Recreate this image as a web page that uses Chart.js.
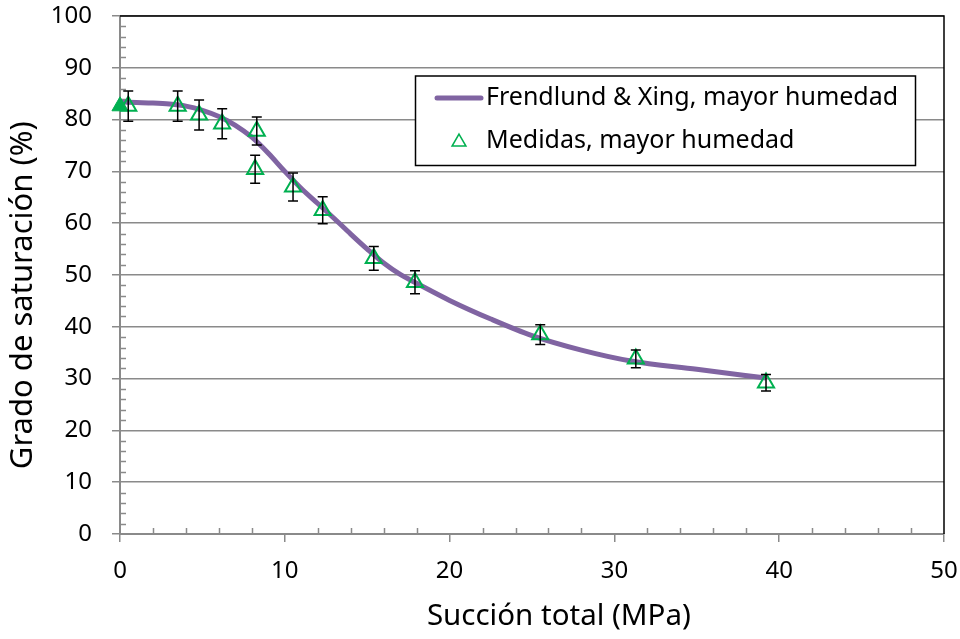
<!DOCTYPE html>
<html>
<head>
<meta charset="utf-8">
<script src="https://cdn.jsdelivr.net/npm/chart.js@4.4.1/dist/chart.umd.min.js"></script>
<style>
html, body { margin: 0; padding: 0; background: #fff; }
#caja { width: 960px; height: 639px; }
</style>
</head>
<body>
<div id="caja"><canvas id="grafico"></canvas></div>
<script>
// curva ajustada (Frendlund & Xing)
var curvaX = [0, 1, 2, 3, 4, 5, 6, 7, 8, 9, 10, 11, 12, 13, 14, 15, 16, 17, 18, 20, 22.5, 25, 28, 31, 35, 39.2];
var curvaY = [83.4, 83.3, 83.2, 83.0, 82.6, 81.8, 80.6, 78.9, 76.6, 73.5, 70.0, 66.7, 63.8, 60.9, 57.9, 55.0, 52.3, 50.1, 48.4, 45.1, 41.5, 38.3, 35.5, 33.4, 31.8, 30.1];

// medidas con barras de error
var medX = [0.5, 3.5, 4.8, 6.2, 8.3, 8.2, 10.5, 12.3, 15.4, 17.9, 25.5, 31.3, 39.2];
var medY = [82.6, 82.6, 80.9, 79.2, 77.8, 70.4, 67.0, 62.5, 53.2, 48.6, 38.5, 33.8, 29.2];
var medErr = [2.9, 2.9, 2.9, 2.9, 2.7, 2.7, 2.7, 2.6, 2.3, 2.2, 1.9, 1.7, 1.6];

// punto relleno en succion cero
var puntoX = [0];
var puntoY = [82.6];

var menoresX = [2, 4, 6, 8, 12, 14, 16, 18, 22, 24, 26, 28, 32, 34, 36, 38, 42, 44, 46, 48];
var menoresY = [2, 4, 6, 8, 12, 14, 16, 18, 22, 24, 26, 28, 32, 34, 36, 38, 42, 44, 46, 48, 52, 54, 56, 58, 62, 64, 66, 68, 72, 74, 76, 78, 82, 84, 86, 88, 92, 94, 96, 98];

var fuente = "'Noto Sans', 'Open Sans', sans-serif";
var gris = '#8a8a8a';
var morado = '#8064A2';
var verde = '#00B050';

function pares(xs, ys) {
	return xs.map(function (x, i) { return { x: x, y: ys[i] }; });
}

var marcasMenores = {
	id: 'marcasMenores',
	beforeDatasetsDraw: function (chart) {
		var ctx = chart.ctx, sx = chart.scales.x, sy = chart.scales.y;
		var y0 = sy.bottom, x0 = sx.left;
		ctx.save();
		ctx.strokeStyle = gris;
		ctx.lineWidth = 1.5;
		ctx.beginPath();
		menoresX.forEach(function (v) {
			var px = Math.round(sx.getPixelForValue(v)) + 0.5;
			ctx.moveTo(px, y0);
			ctx.lineTo(px, y0 - 6);
		});
		menoresY.forEach(function (v) {
			var py = Math.round(sy.getPixelForValue(v)) + 0.5;
			ctx.moveTo(x0, py);
			ctx.lineTo(x0 + 6, py);
		});
		ctx.stroke();
		ctx.restore();
	}
};

var barrasError = {
	id: 'barrasError',
	afterDatasetsDraw: function (chart) {
		var ctx = chart.ctx, sx = chart.scales.x, sy = chart.scales.y;
		ctx.save();
		ctx.strokeStyle = '#000';
		ctx.lineWidth = 1.5;
		ctx.beginPath();
		for (var i = 0; i < medX.length; i++) {
			var px = sx.getPixelForValue(medX[i]);
			var arriba = sy.getPixelForValue(medY[i] + medErr[i]);
			var abajo = sy.getPixelForValue(medY[i] - medErr[i]);
			ctx.moveTo(px, arriba); ctx.lineTo(px, abajo);
			ctx.moveTo(px - 5, arriba); ctx.lineTo(px + 5, arriba);
			ctx.moveTo(px - 5, abajo); ctx.lineTo(px + 5, abajo);
		}
		ctx.stroke();
		ctx.restore();
	}
};

var marcoYLeyenda = {
	id: 'marcoYLeyenda',
	afterDraw: function (chart) {
		var ctx = chart.ctx, a = chart.chartArea;
		ctx.save();
		// borde superior y derecho del area
		ctx.strokeStyle = '#000';
		ctx.lineWidth = 1.5;
		ctx.beginPath();
		ctx.moveTo(a.left, a.top);
		ctx.lineTo(a.right, a.top);
		ctx.lineTo(a.right, a.bottom);
		ctx.stroke();

		// leyenda
		var lx = 415.5, ly = 76, lw = 500, lh = 89.5;
		ctx.fillStyle = '#fff';
		ctx.fillRect(lx, ly, lw, lh);
		ctx.lineWidth = 1.5;
		ctx.strokeStyle = '#000';
		ctx.strokeRect(lx, ly, lw, lh);

		var fila1 = ly + 22, fila2 = ly + 65;
		ctx.strokeStyle = morado;
		ctx.lineWidth = 5;
		ctx.lineCap = 'round';
		ctx.beginPath();
		ctx.moveTo(437, fila1);
		ctx.lineTo(481, fila1);
		ctx.stroke();

		ctx.fillStyle = '#fff';
		ctx.strokeStyle = verde;
		ctx.lineWidth = 1.5;
		Chart.helpers.drawPoint(ctx, { pointStyle: 'triangle', radius: 8, borderWidth: 1.5 }, 459, fila2 + 1);

		ctx.fillStyle = '#000';
		ctx.font = "25px " + fuente;
		ctx.textBaseline = 'middle';
		ctx.textAlign = 'left';
		ctx.fillText(chart.data.datasets[2].label, 486, fila1);
		ctx.fillText(chart.data.datasets[0].label, 486, fila2);
		ctx.restore();
	}
};

new Chart(document.getElementById('grafico'), {
	type: 'scatter',
	data: {
		datasets: [
			{
				label: 'Medidas, mayor humedad',
				data: pares(medX, medY),
				pointStyle: 'triangle',
				pointRadius: 9.3,
				pointBorderWidth: 2,
				pointBorderColor: verde,
				pointBackgroundColor: 'rgba(255,255,255,0)',
				showLine: false,
				order: 1
			},
			{
				label: 'inicial',
				data: pares(puntoX, puntoY),
				pointStyle: 'triangle',
				pointRadius: 9.3,
				pointBorderWidth: 1,
				pointBorderColor: verde,
				pointBackgroundColor: verde,
				showLine: false,
				clip: false,
				order: 2
			},
			{
				label: 'Frendlund & Xing, mayor humedad',
				data: pares(curvaX, curvaY),
				showLine: true,
				borderColor: morado,
				borderWidth: 5,
				pointRadius: 0,
				cubicInterpolationMode: 'monotone',
				order: 3
			}
		]
	},
	options: {
		responsive: true,
		maintainAspectRatio: false,
		animation: false,
		layout: { padding: { top: 16, right: 16, left: 0, bottom: 0 } },
		plugins: {
			legend: { display: false },
			tooltip: { enabled: false }
		},
		scales: {
			x: {
				type: 'linear',
				min: 0,
				max: 50,
				ticks: { stepSize: 10, color: '#000', padding: 15, maxRotation: 0, font: { family: fuente, size: 24 } },
				grid: { drawOnChartArea: false, drawTicks: true, tickLength: 8, color: gris, lineWidth: 1.5 },
				border: { color: gris, width: 2 },
				title: {
					display: true,
					text: '\u00a0\u00a0\u00a0\u00a0\u00a0\u00a0\u00a0Succión total (MPa)',
					color: '#000',
					font: { family: fuente, size: 29.5 },
					padding: { top: 0, bottom: 5 }
				},
				afterFit: function (s) { s.height = 105; s.paddingLeft = 0; s.paddingRight = 0; }
			},
			y: {
				min: 0,
				max: 100,
				ticks: { stepSize: 10, color: '#000', padding: 20, font: { family: fuente, size: 24 } },
				grid: { drawTicks: true, tickLength: 8, color: gris, lineWidth: 1.5 },
				border: { color: gris, width: 2 },
				title: {
					display: true,
					text: 'Grado de saturación (%)\u00a0\u00a0\u00a0\u00a0\u00a0',
					color: '#000',
					font: { family: fuente, size: 31 },
					padding: { top: 5, bottom: 0 }
				},
				afterFit: function (s) { s.width = 120; s.paddingTop = 0; s.paddingBottom = 0; }
			}
		}
	},
	plugins: [marcasMenores, barrasError, marcoYLeyenda]
});
</script>
</body>
</html>
